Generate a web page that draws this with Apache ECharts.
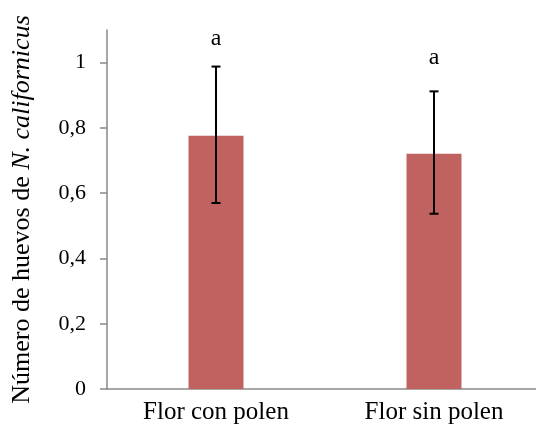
<!DOCTYPE html>
<html>
<head>
<meta charset="utf-8">
<script src="https://cdn.jsdelivr.net/npm/echarts@6/dist/echarts.min.js"></script>
<style>
html,body{margin:0;padding:0;background:#fff;}
#c{width:536px;height:427px;}
</style>
</head>
<body>
<div id="c"></div>
<script>
var categories = ['Flor con polen', 'Flor sin polen'];
var means = [0.776, 0.721];
var errLow = [0.570, 0.537];
var errHigh = [0.988, 0.912];
var letters = ['a', 'a'];
var letterPos = [1.073, 1.015];
var yTicks = [0, 0.2, 0.4, 0.6, 0.8, 1];

var FONT = '"Liberation Serif", "Times New Roman", serif';
var chart = echarts.init(document.getElementById('c'));

var errData = categories.map(function (c, i) { return [i, errLow[i], errHigh[i]]; });
var letterData = categories.map(function (c, i) { return [i, letterPos[i], letters[i]]; });

chart.setOption({
  animation: false,
  backgroundColor: '#fff',
  grid: { left: 107, top: 30, width: 436, bottom: 38, containLabel: false, outerBoundsMode: 'none' },
  xAxis: {
    type: 'category',
    data: categories,
    axisLine: { lineStyle: { color: '#898989', width: 1.5 } },
    axisTick: { show: false },
    axisLabel: { color: '#000', fontFamily: FONT, fontSize: 25, margin: 11 }
  },
  yAxis: {
    type: 'value',
    min: 0, max: 1.1, interval: 0.2,
    splitLine: { show: false },
    axisLine: { show: true, lineStyle: { color: '#898989', width: 1.5 } },
    axisTick: { show: true, length: 7, customValues: yTicks, lineStyle: { color: '#898989', width: 1.5 } },
    axisLabel: {
      color: '#000', fontFamily: FONT, fontSize: 22, margin: 21,
      customValues: yTicks,
      formatter: function (v) { return String(Math.round(v * 10) / 10).replace('.', ','); }
    },
    name: '{n|Número de huevos de }{i|N. californicus}',
    nameLocation: 'middle',
    nameGap: 72,
    nameRotate: 90,
    nameTextStyle: {
      rich: {
        n: { fontFamily: FONT, fontSize: 26, color: '#000' },
        i: { fontFamily: FONT, fontSize: 26, color: '#000', fontStyle: 'italic' }
      }
    }
  },
  series: [
    {
      type: 'bar',
      data: means,
      barWidth: 55,
      itemStyle: { color: '#C0625F' }
    },
    {
      type: 'custom',
      data: errData,
      z: 5,
      renderItem: function (params, api) {
        var x = api.coord([api.value(0), api.value(1)])[0];
        var lo = api.coord([api.value(0), api.value(1)])[1];
        var hi = api.coord([api.value(0), api.value(2)])[1];
        var hw = 4.5;
        var st = { stroke: '#000', lineWidth: 2 };
        return {
          type: 'group',
          children: [
            { type: 'line', shape: { x1: x, y1: lo, x2: x, y2: hi }, style: st },
            { type: 'line', shape: { x1: x - hw, y1: lo, x2: x + hw, y2: lo }, style: st },
            { type: 'line', shape: { x1: x - hw, y1: hi, x2: x + hw, y2: hi }, style: st }
          ]
        };
      }
    },
    {
      type: 'custom',
      data: letterData,
      z: 6,
      renderItem: function (params, api) {
        var p = api.coord([api.value(0), api.value(1)]);
        return {
          type: 'text',
          style: {
            x: p[0], y: p[1], text: letters[params.dataIndex],
            fill: '#000', font: '24px ' + FONT,
            align: 'center', verticalAlign: 'middle'
          }
        };
      }
    }
  ]
});
</script>
</body>
</html>
